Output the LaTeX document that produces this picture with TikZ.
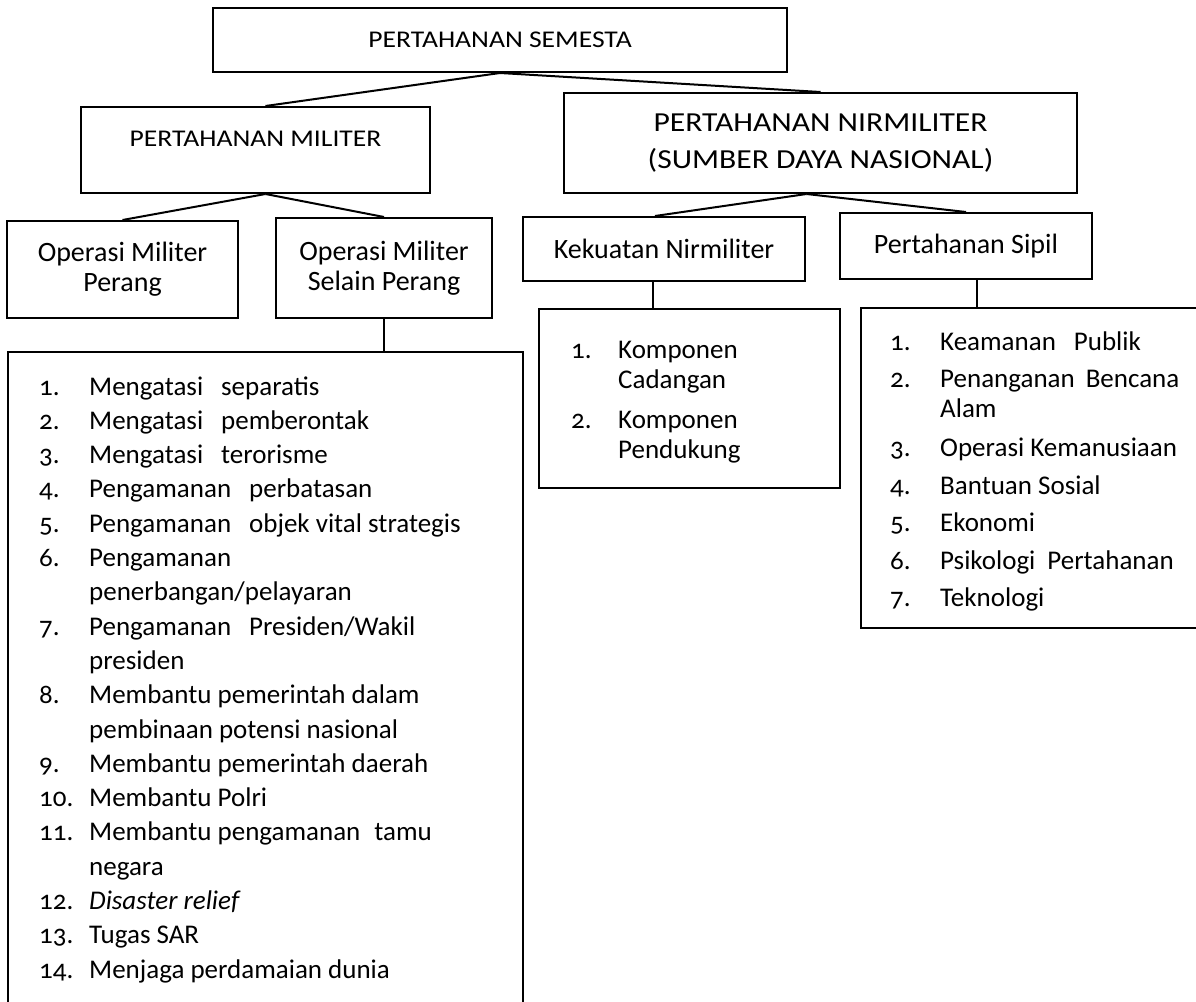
\documentclass[tikz,border=0pt]{standalone}
\usepackage{fontspec}
\setmainfont{Carlito}[Numbers=OldStyle]
\newfontfamily\capsfont{Carlito}[FakeStretch=1.15]
\usepackage{tikz}
\newcommand{\lgap}[1][18pt]{\hspace{#1}}

\begin{document}
\begin{tikzpicture}[x=1pt, y=-1pt,
    main box/.style={draw, line width=2pt, inner sep=0pt, align=center},
    list text/.style={anchor=base west, inner sep=0pt},
    link/.style={line width=2pt},
    ]
    \useasboundingbox (0,0) rectangle (1196,1001);
    \clip (0,0) rectangle (1196,1001);

    % top level
    \node[main box, minimum width=574pt, minimum height=64pt, font=\capsfont\fontsize{24}{28}\selectfont] (semesta) at (500,40) {PERTAHANAN SEMESTA};

    % second level
    \node[main box, minimum width=349pt, text height=39pt, text depth=47pt, font=\capsfont\fontsize{24}{28}\selectfont] (pm) at (255.5,150) {PERTAHANAN MILITER};
    \node[main box, minimum width=513pt, minimum height=100pt, font=\capsfont\fontsize{27.5}{37}\selectfont] (pn) at (820.5,143) {PERTAHANAN NIRMILITER\\(SUMBER DAYA NASIONAL)};

    % third level
    \node[main box, minimum width=231pt, minimum height=97pt, font=\fontsize{28}{30}\selectfont] (omp) at (122.5,269.5) {Operasi Militer\\Perang};
    \node[main box, minimum width=216pt, minimum height=100pt, font=\fontsize{28}{30}\selectfont] (omsp) at (384,268) {Operasi Militer\\Selain Perang};
    \node[main box, minimum width=282pt, minimum height=64pt, font=\fontsize{28}{30}\selectfont] (kek) at (664,249) {Kekuatan Nirmiliter};
    \node[main box, minimum width=252pt, minimum height=66pt, font=\fontsize{28}{30}\selectfont] (ps) at (966,246) {Pertahanan Sipil};

    % lists
    \node[main box, minimum width=515pt, minimum height=688pt] (list1) at (265.5,696) {};
    \node[main box, minimum width=301pt, minimum height=179pt] (list2) at (689.5,398.5) {};
    \node[main box, minimum width=379pt, minimum height=320pt] (list3) at (1050.5,468) {};

    \node[list text, font=\fontsize{27}{34.3}\selectfont] (list1 items) at (39,395) {%
        \begin{tabular}[t]{@{}p{50pt}@{}l@{}}
        1. & Mengatasi\lgap separatis\\
        2. & Mengatasi\lgap pemberontak\\
        3. & Mengatasi\lgap terorisme\\
        4. & Pengamanan\lgap perbatasan\\
        5. & Pengamanan\lgap objek vital strategis\\
        6. & Pengamanan\\
           & penerbangan/pelayaran\\
        7. & Pengamanan\lgap Presiden/Wakil\\
           & presiden\\
        8. & Membantu pemerintah dalam\\
           & pembinaan potensi nasional\\
        9. & Membantu pemerintah daerah\\
        10. & Membantu Polri\\
        11. & Membantu pengamanan\lgap[14pt]tamu\\
            & negara\\
        12. & \textit{Disaster relief}\\
        13. & Tugas SAR\\
        14. & Menjaga perdamaian dunia
        \end{tabular}};
    \node[list text, font=\fontsize{27}{30}\selectfont] (list2 items) at (571,358) {%
        \begin{tabular}[t]{@{}p{47pt}@{}l@{}}
        1. & Komponen\\
           & Cadangan\\[10pt]
        2. & Komponen\\
           & Pendukung
        \end{tabular}};
    \node[list text, font=\fontsize{27}{30}\selectfont] (list3 items) at (890,350) {%
        \begin{tabular}[t]{@{}p{50pt}@{}l@{}}
        1. & Keamanan\lgap Publik\\[7.5pt]
        2. & Penanganan\lgap[11pt]Bencana\\
           & Alam\\[9pt]
        3. & Operasi Kemanusiaan\\[7.5pt]
        4. & Bantuan Sosial\\[7.5pt]
        5. & Ekonomi\\[7.5pt]
        6. & Psikologi\lgap[12pt]Pertahanan\\[7.5pt]
        7. & Teknologi
        \end{tabular}};

    % connectors
    \draw[link] (semesta.south) -- ([xshift=10pt]pm.north);
    \draw[link] (semesta.south) -- (pn.north);
    \draw[link] ([xshift=10pt]pm.south) -- (omp.north);
    \draw[link] ([xshift=10pt]pm.south) -- (omsp.north);
    \draw[link] ([xshift=-14pt]pn.south) -- ([xshift=-9pt]kek.north);
    \draw[link] ([xshift=-14pt]pn.south) -- (ps.north);
    \draw[link] (omsp.south) -- (omsp.south |- list1.north);
    \draw[link] ([xshift=-11pt]kek.south) -- ([xshift=-11pt]kek.south |- list2.north);
    \draw[link] ([xshift=11pt]ps.south) -- ([xshift=11pt]ps.south |- list3.north);
\end{tikzpicture}
\end{document}
